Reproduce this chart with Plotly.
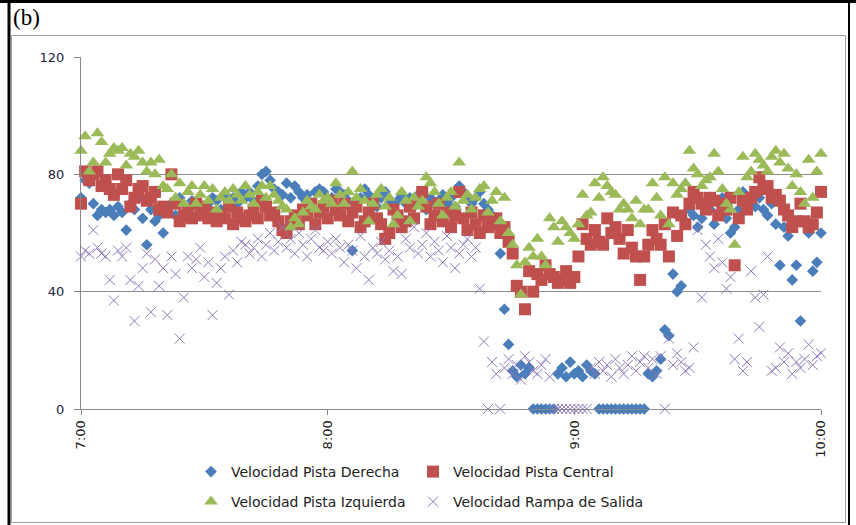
import plotly.graph_objects as go
import pandas as pd

# one reading per minute, 7:00 .. 10:00
times = pd.date_range("2000-01-01 07:00", "2000-01-01 10:00", freq="1min")
x_tick_vals = ["2000-01-01 07:00", "2000-01-01 08:00", "2000-01-01 09:00", "2000-01-01 10:00"]
x_tick_text = ["7:00", "8:00", "9:00", "10:00"]
y_tick_vals = [0, 40, 80, 120]

derecha = [
    72, 78, 77, 70, 66, 68, 67, 68, 66, 69,
    67, 61, 70, 68, 72, 65, 56, 68, 64, 66,
    60, 68, 70, 66, 72, 65, 68, 71, 70, 69,
    67, 70, 72, 71, 68, 73, 70, 72, 70, 74,
    72, 74, 71, 76, 80, 81, 78, 75, 74, 73,
    77, 72, 76, 74, 72, 73, 70, 74, 75, 74,
    70, 72, 75, 74, 73, 71, 54, 70, 72, 75,
    73, 71, 69, 72, 74, 70, 68, 71, 73, 70,
    72, 69, 73, 70, 68, 72, 70, 71, 73, 70,
    72, 69, 76, 74, 72, 70, 72, 74, 70, 68,
    66, 63, 53, 34, 22, 13, 11, 15, 12, 14,
    0, 0, 0, 0, 0, 0, 12, 14, 11, 16,
    12, 13, 11, 15, 13, 12, 0, 0, 0, 0,
    0, 0, 0, 0, 0, 0, 0, 0, 12, 11,
    13, 17, 27, 25, 46, 40, 42, 64, 68, 66,
    62, 65, 70, 68, 63, 66, 72, 65, 60, 62,
    68, 74, 70, 72, 69, 72, 68, 66, 70, 63,
    49, 62, 59, 44, 49, 30, 64, 60, 47, 50,
    60,
]

central = [
    70, 81, 78, 80, 81, 76, 78, 75, 73, 80,
    75, 78, 69, 72, 75, 76, 71, 72, 74, 68,
    69, 67, 80, 70, 64, 66, 68, 65, 70, 66,
    69, 65, 67, 64, 66, 65, 69, 63, 67, 65,
    64, 66, 68, 65, 71, 69, 66, 67, 64, 61,
    60, 64, 66, 63, 68, 66, 70, 63, 67, 69,
    65, 71, 68, 66, 70, 64, 67, 69, 62, 64,
    67, 70, 65, 63, 58, 60, 68, 66, 62, 64,
    69, 65, 71, 74, 69, 63, 66, 70, 64, 67,
    62, 66, 74, 65, 61, 67, 63, 60, 66, 62,
    63, 65, 60, 62, 57, 53, 42, 40, 34, 47,
    40, 46, 44, 49, 46, 45, 43, 44, 47, 43,
    45, 52, 63, 58, 56, 61, 57, 56, 65, 60,
    62, 58, 53, 61, 55, 52, 44, 52, 56, 61,
    58, 56, 63, 52, 67, 59, 66, 63, 70, 74,
    72, 70, 68, 72, 71, 66, 70, 68, 72, 49,
    65, 71, 68, 72, 74, 79, 75, 76, 72, 73,
    71, 68, 66, 62, 64, 70, 64, 62, 63, 67,
    74,
]

izquierda = [
    88, 93, 81, 84, 94, 91, 84, 87, 89, 88,
    89, 83, 87, 86, 88, 84, 81, 84, 80, 85,
    76, 75, 80, 72, 77, 70, 74, 76, 70, 73,
    76, 71, 75, 68, 72, 74, 71, 75, 73, 71,
    76, 73, 70, 74, 76, 72, 76, 73, 71, 69,
    68, 62, 65, 63, 67, 71, 69, 68, 73, 71,
    72, 70, 77, 73, 70, 74, 81, 72, 75, 71,
    64, 70, 73, 75, 69, 72, 63, 66, 74, 71,
    64, 72, 69, 71, 79, 77, 74, 70, 66, 72,
    74, 69, 84, 71, 73, 68, 72, 75, 76, 67,
    71, 74, 64, 72, 60, 56, 49, 39, 50, 55,
    52, 58, 52, 49, 65, 62, 57, 64, 62, 60,
    58, 63, 73, 66, 67, 77, 72, 79, 76, 74,
    73, 68, 70, 68, 65, 71, 63, 68, 68, 77,
    72, 66, 79, 63, 77, 73, 75, 77, 88, 82,
    80, 76, 78, 79, 87, 81, 75, 70, 68, 56,
    74, 86, 79, 81, 87, 85, 83, 81, 86, 88,
    84, 87, 82, 76, 80, 74, 70, 85, 72, 81,
    87,
]

rampa = [
    52, 54, 53, 61, 55, 53, 52, 44, 37, 54,
    52, 55, 44, 30, 42, 48, 53, 33, 51, 42,
    48, 32, 52, 46, 24, 38, 52, 48, 51, 55,
    45, 50, 32, 43, 48, 52, 39, 54, 50, 57,
    56, 53, 55, 58, 52, 56, 60, 54, 57, 62,
    55, 58, 53, 60, 56, 52, 58, 61, 55, 54,
    57, 53, 58, 55, 50, 56, 54, 48, 59, 52,
    44, 55, 53, 57, 51, 54, 47, 52, 46, 58,
    55, 62, 53, 56, 60, 52, 57, 54, 50, 59,
    55, 48, 53, 56, 58, 52, 55, 41, 23, 0,
    16, 12, 0, 14, 17, 12, 15, 10, 18, 16,
    13, 12, 15, 17, 11, 0, 0, 0, 0, 0,
    0, 0, 0, 0, 14, 12, 16, 13, 15, 11,
    17, 14, 12, 15, 18, 13, 16, 18, 14, 17,
    12, 18, 0, 24, 15, 19, 16, 13, 14, 21,
    61, 38, 56, 52, 48, 58, 50, 41, 45, 17,
    24, 13, 16, 47, 38, 28, 39, 52, 13, 14,
    21, 16, 19, 12, 16, 14, 17, 22, 15, 18,
    19,
]

names = ["Velocidad Pista Derecha", "Velocidad Pista Central",
         "Velocidad Pista Izquierda", "Velocidad Rampa de Salida"]

# pixel geometry of the plot area
L, R, T, B = 81, 821, 57, 409
W, H = 856, 525
def px(x):
    return (x - L) / (R - L)
def py(y):
    return (B - y) / (B - T)

fig = go.Figure()
fig.add_trace(go.Scatter(x=times, y=derecha, mode="markers", name=names[0],
                         marker=dict(symbol="diamond", size=9, color="#4A7EBB", line=dict(width=0)),
                         cliponaxis=False, legend="legend"))
fig.add_trace(go.Scatter(x=times, y=central, mode="markers", name=names[1],
                         marker=dict(symbol="square", size=12, color="#C0504D", line=dict(width=0)),
                         cliponaxis=False, legend="legend2"))
fig.add_trace(go.Scatter(x=times, y=izquierda, mode="markers", name=names[2],
                         marker=dict(symbol="triangle-up", size=12, color="#9BBB59", line=dict(width=0)),
                         cliponaxis=False, legend="legend3"))
fig.add_trace(go.Scatter(x=times, y=rampa, mode="markers", name=names[3],
                         marker=dict(symbol="x-thin", size=10, color="#8D78B8",
                                     line=dict(width=1, color="#8D78B8")),
                         cliponaxis=False, legend="legend4"))

legend_font = dict(family="DejaVu Sans", size=14, color="#222222")
def leg(xp, yp):
    return dict(orientation="v", x=px(xp), y=py(yp), xanchor="left", yanchor="middle",
                itemwidth=30, font=legend_font, bgcolor="rgba(0,0,0,0)",
                visible=True)

fig.update_layout(
    width=W, height=H,
    margin=dict(l=L, r=W - R, t=T, b=H - B, autoexpand=False),
    paper_bgcolor="white", plot_bgcolor="white",
    showlegend=True,
    xaxis=dict(range=["2000-01-01 07:00", "2000-01-01 10:00"],
               tickvals=x_tick_vals, ticktext=x_tick_text, tickangle=-90,
               showgrid=False, zeroline=False,
               showline=True, linecolor="#888888", linewidth=1,
               ticks="outside", ticklen=5, tickcolor="#888888",
               tickfont=dict(family="DejaVu Sans", size=13, color="#222222")),
    yaxis=dict(range=[0, 120], tickvals=y_tick_vals,
               showgrid=True, gridcolor="#8c8c8c", gridwidth=1,
               zeroline=False, showline=True, linecolor="#888888", linewidth=1,
               ticks="outside", ticklen=6, tickcolor="#888888",
               ticklabelstandoff=7,
               tickfont=dict(family="DejaVu Sans", size=13, color="#222244")),
    legend=leg(191, 472),
    legend2=leg(413, 472),
    legend3=leg(191, 502),
    legend4=leg(413, 502),
)

# frames: outer black border and inner grey chart-area border
shapes = [
    dict(type="line", x0=px(0), x1=px(W), y0=py(1.5), y1=py(1.5), line=dict(color="black", width=3)),
    dict(type="line", x0=px(9), x1=px(9), y0=py(0), y1=py(W), line=dict(color="black", width=3)),
    dict(type="line", x0=px(849), x1=px(849), y0=py(0), y1=py(W), line=dict(color="black", width=2)),
    dict(type="rect", x0=px(11.5), x1=px(845.5), y0=py(35.5), y1=py(522.5),
         line=dict(color="#a0a0a0", width=1)),
]
for s in shapes:
    s.update(xref="paper", yref="paper", layer="above")
fig.update_layout(shapes=shapes)

fig.add_annotation(text="(b)", xref="paper", yref="paper", x=px(11), y=py(3),
                   xanchor="left", yanchor="top", showarrow=False,
                   font=dict(family="Liberation Serif", size=23, color="black"))

fig.write_html("out.html")
